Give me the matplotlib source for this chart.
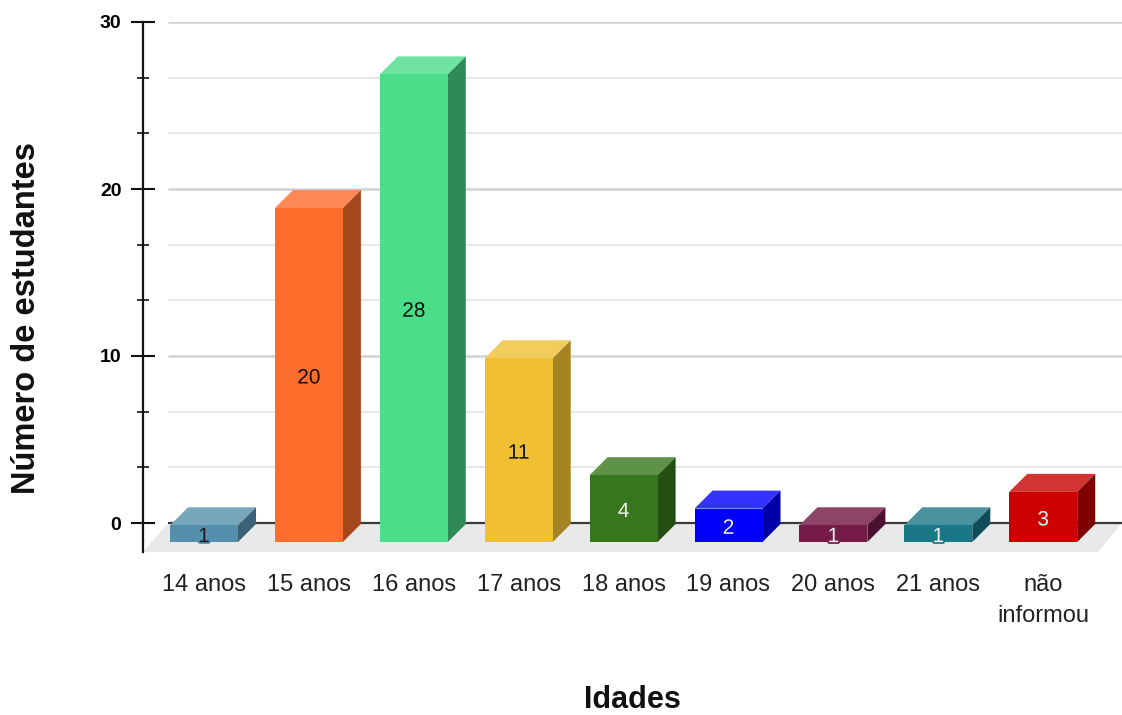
import matplotlib
matplotlib.use("Agg")
import matplotlib.pyplot as plt
import matplotlib.patheffects as pe
from matplotlib.patches import Polygon

plt.rcParams['font.family'] = ['Liberation Sans', 'DejaVu Sans']

categories = ["14 anos", "15 anos", "16 anos", "17 anos", "18 anos",
              "19 anos", "20 anos", "21 anos", "não\ninformou"]
values = [1, 20, 28, 11, 4, 2, 1, 1, 3]
front_colors = ["#5490AD", "#FF6D2D", "#4CDD88", "#F0BF33", "#38761D",
                "#0000FF", "#741B47", "#1A7786", "#CC0000"]
top_colors = ["#78A6BB", "#FF8A57", "#6FE3A0", "#F2CC5C", "#5E9247",
              "#3333FF", "#8E4468", "#4A929E", "#D43333"]
side_colors = ["#3A6175", "#A5481E", "#2E8B58", "#A68424", "#234F12",
               "#0000A8", "#4C1130", "#0E4C57", "#800000"]
label_colors = ["#1a1a1a", "#111111", "#111111", "#111111", "#f0f0f0",
                "#f0f0f0", "#f0f0f0", "#f0f0f0", "#f0f0f0"]
major_ticks = [0, 10, 20, 30]

W, H = 1122, 715
px_x = 104.9    # pixels per category
px_y = 16.7     # pixels per student

fig = plt.figure(figsize=(W / 100, H / 100), dpi=100)
ax = fig.add_axes([143 / W, 1 - 552 / H, (W - 143) / W, (552 - 22) / H])
ax.set_xlim((143 - 204) / px_x, (W - 204) / px_x)
ax.set_ylim(-29 / px_y, 30)

# depth of the fake 3d extrusion, and the bar baseline in front of zero
dx = 18 / px_x
dy = 18 / px_y
base = -19 / px_y
half = 34 / px_x
x_back = (168 - 204) / px_x
x_end = (W - 204) / px_x

minor_ticks = [t + s * 10 / 3 for t in major_ticks[:-1] for s in (1, 2)]
ax.hlines(minor_ticks, x_back, x_end, color="#e8e8e8", lw=1.5, zorder=1)
ax.hlines(major_ticks[1:], x_back, x_end, color="#d2d2d2", lw=1.8, zorder=1)

# floor under the bars
ylo = ax.get_ylim()[0]
ax.add_patch(Polygon([(x_back, 0), (x_end, 0), ((1098 - 204) / px_x, ylo),
                      (ax.get_xlim()[0], ylo)], fc="#e9e9e9", ec="none", zorder=2))
ax.hlines(0, x_back, x_end, color="#3a3a3a", lw=1.6, zorder=3)

for i, v in enumerate(values):
    l, r = i - half, i + half
    t = base + v
    ax.add_patch(Polygon([(l, base), (r, base), (r, t), (l, t)],
                         fc=front_colors[i], ec="none", zorder=5))
    ax.add_patch(Polygon([(l, t), (r, t), (r + dx, t + dy), (l + dx, t + dy)],
                         fc=top_colors[i], ec="none", zorder=4))
    ax.add_patch(Polygon([(r, base), (r + dx, base + dy), (r + dx, t + dy), (r, t)],
                         fc=side_colors[i], ec="none", zorder=4))
    # labels sit slightly under the middle of the front face
    ax.text(i, base + v / 2 - 3 / px_y, str(v), ha="center", va="center", fontsize=15,
            color=label_colors[i], zorder=6, clip_on=False,
            path_effects=[pe.withStroke(linewidth=2.5, foreground=front_colors[i])])

for side in ("top", "right", "bottom"):
    ax.spines[side].set_visible(False)
ax.spines["left"].set_linewidth(1.6)
ax.spines["left"].set_color("#111111")
ax.spines["left"].set_zorder(7)

ax.set_yticks(major_ticks)
ax.set_yticks(minor_ticks, minor=True)
ax.tick_params(axis="y", which="major", direction="inout", length=17, width=1.5,
               labelsize=14, pad=7, color="#111111")
ax.tick_params(axis="y", which="minor", direction="inout", length=8, width=1.2,
               color="#111111")
for lab in ax.get_yticklabels():
    lab.set_fontweight("bold")

ax.set_xticks(range(len(categories)))
ax.set_xticklabels(categories, fontsize=17, color="#222222", linespacing=1.5)
ax.tick_params(axis="x", length=0, pad=16)
for lab in ax.get_xticklabels():
    lab.set_verticalalignment("top")

fig.text(27 / W, 1 - 318 / H, "Número de estudantes", rotation=90, fontsize=23.5,
         fontweight="bold", ha="center", va="center", color="#111111")
fig.text(632 / W, 1 - 708 / H, "Idades", fontsize=22, fontweight="bold",
         ha="center", va="baseline", color="#111111")

fig.savefig("out.png", dpi=100)
